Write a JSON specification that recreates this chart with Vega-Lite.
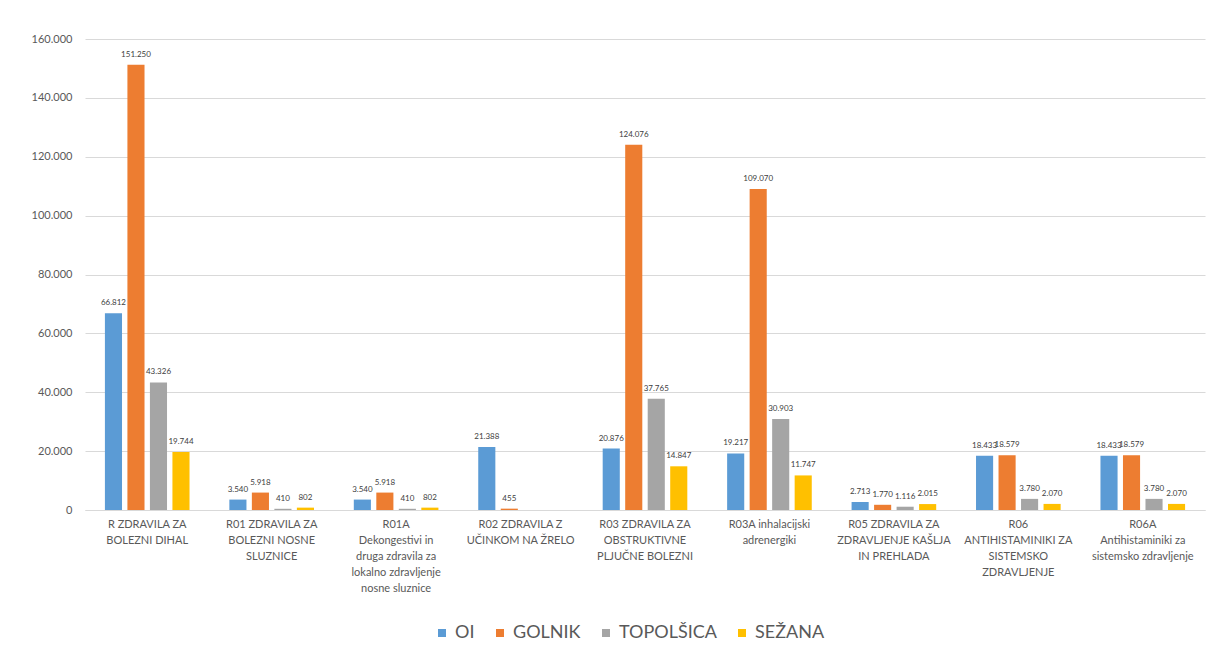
{
  "$schema": "https://vega.github.io/schema/vega-lite/v6.json",
  "width": 1120,
  "height": 471,
  "autosize": {"type": "none"},
  "padding": {"left": 85, "top": 39, "right": 13, "bottom": 156},
  "background": "white",
  "data": {
    "values": [
      {"cat": "R ZDRAVILA ZA BOLEZNI DIHAL", "bolnisnica": "OI", "vrednost": 66812},
      {"cat": "R ZDRAVILA ZA BOLEZNI DIHAL", "bolnisnica": "GOLNIK", "vrednost": 151250},
      {"cat": "R ZDRAVILA ZA BOLEZNI DIHAL", "bolnisnica": "TOPOLŠICA", "vrednost": 43326},
      {"cat": "R ZDRAVILA ZA BOLEZNI DIHAL", "bolnisnica": "SEŽANA", "vrednost": 19744},
      {"cat": "R01 ZDRAVILA ZA BOLEZNI NOSNE SLUZNICE", "bolnisnica": "OI", "vrednost": 3540},
      {"cat": "R01 ZDRAVILA ZA BOLEZNI NOSNE SLUZNICE", "bolnisnica": "GOLNIK", "vrednost": 5918},
      {"cat": "R01 ZDRAVILA ZA BOLEZNI NOSNE SLUZNICE", "bolnisnica": "TOPOLŠICA", "vrednost": 410},
      {"cat": "R01 ZDRAVILA ZA BOLEZNI NOSNE SLUZNICE", "bolnisnica": "SEŽANA", "vrednost": 802},
      {"cat": "R01A Dekongestivi in druga zdravila za lokalno zdravljenje nosne sluznice", "bolnisnica": "OI", "vrednost": 3540},
      {"cat": "R01A Dekongestivi in druga zdravila za lokalno zdravljenje nosne sluznice", "bolnisnica": "GOLNIK", "vrednost": 5918},
      {"cat": "R01A Dekongestivi in druga zdravila za lokalno zdravljenje nosne sluznice", "bolnisnica": "TOPOLŠICA", "vrednost": 410},
      {"cat": "R01A Dekongestivi in druga zdravila za lokalno zdravljenje nosne sluznice", "bolnisnica": "SEŽANA", "vrednost": 802},
      {"cat": "R02 ZDRAVILA Z UČINKOM NA ŽRELO", "bolnisnica": "OI", "vrednost": 21388},
      {"cat": "R02 ZDRAVILA Z UČINKOM NA ŽRELO", "bolnisnica": "GOLNIK", "vrednost": 455},
      {"cat": "R03 ZDRAVILA ZA OBSTRUKTIVNE PLJUČNE BOLEZNI", "bolnisnica": "OI", "vrednost": 20876},
      {"cat": "R03 ZDRAVILA ZA OBSTRUKTIVNE PLJUČNE BOLEZNI", "bolnisnica": "GOLNIK", "vrednost": 124076},
      {"cat": "R03 ZDRAVILA ZA OBSTRUKTIVNE PLJUČNE BOLEZNI", "bolnisnica": "TOPOLŠICA", "vrednost": 37765},
      {"cat": "R03 ZDRAVILA ZA OBSTRUKTIVNE PLJUČNE BOLEZNI", "bolnisnica": "SEŽANA", "vrednost": 14847},
      {"cat": "R03A inhalacijski adrenergiki", "bolnisnica": "OI", "vrednost": 19217},
      {"cat": "R03A inhalacijski adrenergiki", "bolnisnica": "GOLNIK", "vrednost": 109070},
      {"cat": "R03A inhalacijski adrenergiki", "bolnisnica": "TOPOLŠICA", "vrednost": 30903},
      {"cat": "R03A inhalacijski adrenergiki", "bolnisnica": "SEŽANA", "vrednost": 11747},
      {"cat": "R05 ZDRAVILA ZA ZDRAVLJENJE KAŠLJA IN PREHLADA", "bolnisnica": "OI", "vrednost": 2713},
      {"cat": "R05 ZDRAVILA ZA ZDRAVLJENJE KAŠLJA IN PREHLADA", "bolnisnica": "GOLNIK", "vrednost": 1770},
      {"cat": "R05 ZDRAVILA ZA ZDRAVLJENJE KAŠLJA IN PREHLADA", "bolnisnica": "TOPOLŠICA", "vrednost": 1116},
      {"cat": "R05 ZDRAVILA ZA ZDRAVLJENJE KAŠLJA IN PREHLADA", "bolnisnica": "SEŽANA", "vrednost": 2015},
      {"cat": "R06 ANTIHISTAMINIKI ZA SISTEMSKO ZDRAVLJENJE", "bolnisnica": "OI", "vrednost": 18433},
      {"cat": "R06 ANTIHISTAMINIKI ZA SISTEMSKO ZDRAVLJENJE", "bolnisnica": "GOLNIK", "vrednost": 18579},
      {"cat": "R06 ANTIHISTAMINIKI ZA SISTEMSKO ZDRAVLJENJE", "bolnisnica": "TOPOLŠICA", "vrednost": 3780},
      {"cat": "R06 ANTIHISTAMINIKI ZA SISTEMSKO ZDRAVLJENJE", "bolnisnica": "SEŽANA", "vrednost": 2070},
      {"cat": "R06A Antihistaminiki za sistemsko zdravljenje", "bolnisnica": "OI", "vrednost": 18433},
      {"cat": "R06A Antihistaminiki za sistemsko zdravljenje", "bolnisnica": "GOLNIK", "vrednost": 18579},
      {"cat": "R06A Antihistaminiki za sistemsko zdravljenje", "bolnisnica": "TOPOLŠICA", "vrednost": 3780},
      {"cat": "R06A Antihistaminiki za sistemsko zdravljenje", "bolnisnica": "SEŽANA", "vrednost": 2070}
    ]
  },
  "encoding": {
    "x": {
      "field": "cat",
      "type": "nominal",
      "sort": null,
      "scale": {"paddingInner": 0.32, "paddingOuter": 0.16},
      "axis": {
        "title": null,
        "labelAngle": 0,
        "ticks": false,
        "domainColor": "#D9D9D9",
        "labelPadding": 8,
        "labelLimit": 0,
        "labelFontSize": 11,
        "labelLineHeight": 16,
        "labelColor": "#595959",
        "labelFont": "Lato",
        "labelExpr": "{'R ZDRAVILA ZA BOLEZNI DIHAL': ['R ZDRAVILA ZA', 'BOLEZNI DIHAL'], 'R01 ZDRAVILA ZA BOLEZNI NOSNE SLUZNICE': ['R01 ZDRAVILA ZA', 'BOLEZNI NOSNE', 'SLUZNICE'], 'R01A Dekongestivi in druga zdravila za lokalno zdravljenje nosne sluznice': ['R01A', 'Dekongestivi in', 'druga zdravila za', 'lokalno zdravljenje', 'nosne sluznice'], 'R02 ZDRAVILA Z UČINKOM NA ŽRELO': ['R02 ZDRAVILA Z', 'UČINKOM NA ŽRELO'], 'R03 ZDRAVILA ZA OBSTRUKTIVNE PLJUČNE BOLEZNI': ['R03 ZDRAVILA ZA', 'OBSTRUKTIVNE', 'PLJUČNE BOLEZNI'], 'R03A inhalacijski adrenergiki': ['R03A inhalacijski', 'adrenergiki'], 'R05 ZDRAVILA ZA ZDRAVLJENJE KAŠLJA IN PREHLADA': ['R05 ZDRAVILA ZA', 'ZDRAVLJENJE KAŠLJA', 'IN PREHLADA'], 'R06 ANTIHISTAMINIKI ZA SISTEMSKO ZDRAVLJENJE': ['R06', 'ANTIHISTAMINIKI ZA', 'SISTEMSKO', 'ZDRAVLJENJE'], 'R06A Antihistaminiki za sistemsko zdravljenje': ['R06A', 'Antihistaminiki za', 'sistemsko zdravljenje']}[datum.value]"
      }
    },
    "xOffset": {
      "field": "bolnisnica",
      "type": "nominal",
      "scale": {"domain": ["OI", "GOLNIK", "TOPOLŠICA", "SEŽANA"], "paddingInner": 0.24, "paddingOuter": 0}
    },
    "y": {
      "field": "vrednost",
      "type": "quantitative",
      "scale": {"domain": [0, 160000], "nice": false},
      "axis": {
        "title": null,
        "format": ",.0f",
        "values": [0, 20000, 40000, 60000, 80000, 100000, 120000, 140000, 160000],
        "labelOverlap": false,
        "domain": false,
        "ticks": false,
        "labelPadding": 13,
        "labelFontSize": 11,
        "labelColor": "#595959",
        "labelFont": "Lato",
        "gridColor": "#D9D9D9",
        "gridWidth": 1
      }
    }
  },
  "layer": [
    {
      "mark": {"type": "bar"},
      "encoding": {
        "color": {
          "field": "bolnisnica",
          "type": "nominal",
          "scale": {
            "domain": ["OI", "GOLNIK", "TOPOLŠICA", "SEŽANA"],
            "range": ["#5B9BD5", "#ED7D31", "#A5A5A5", "#FFC000"]
          },
          "legend": {
            "title": null,
            "orient": "none",
            "direction": "horizontal",
            "legendX": 348,
            "legendY": 585,
            "symbolType": "square",
            "symbolSize": 64,
            "symbolStrokeWidth": 0,
            "labelFontSize": 18,
            "labelFont": "Lato",
            "labelColor": "#595959",
            "labelOffset": 4,
            "columnPadding": 16
          }
        }
      }
    },
    {
      "mark": {"type": "text", "baseline": "bottom", "dy": -6, "fontSize": 8, "color": "#404040", "font": "Lato"},
      "encoding": {
        "text": {"field": "vrednost", "type": "quantitative", "format": ",.0f"}
      }
    }
  ],
  "config": {
    "locale": {
      "number": {"decimal": ",", "thousands": ".", "grouping": [3], "currency": ["", " €"]}
    },
    "view": {"stroke": null}
  }
}
